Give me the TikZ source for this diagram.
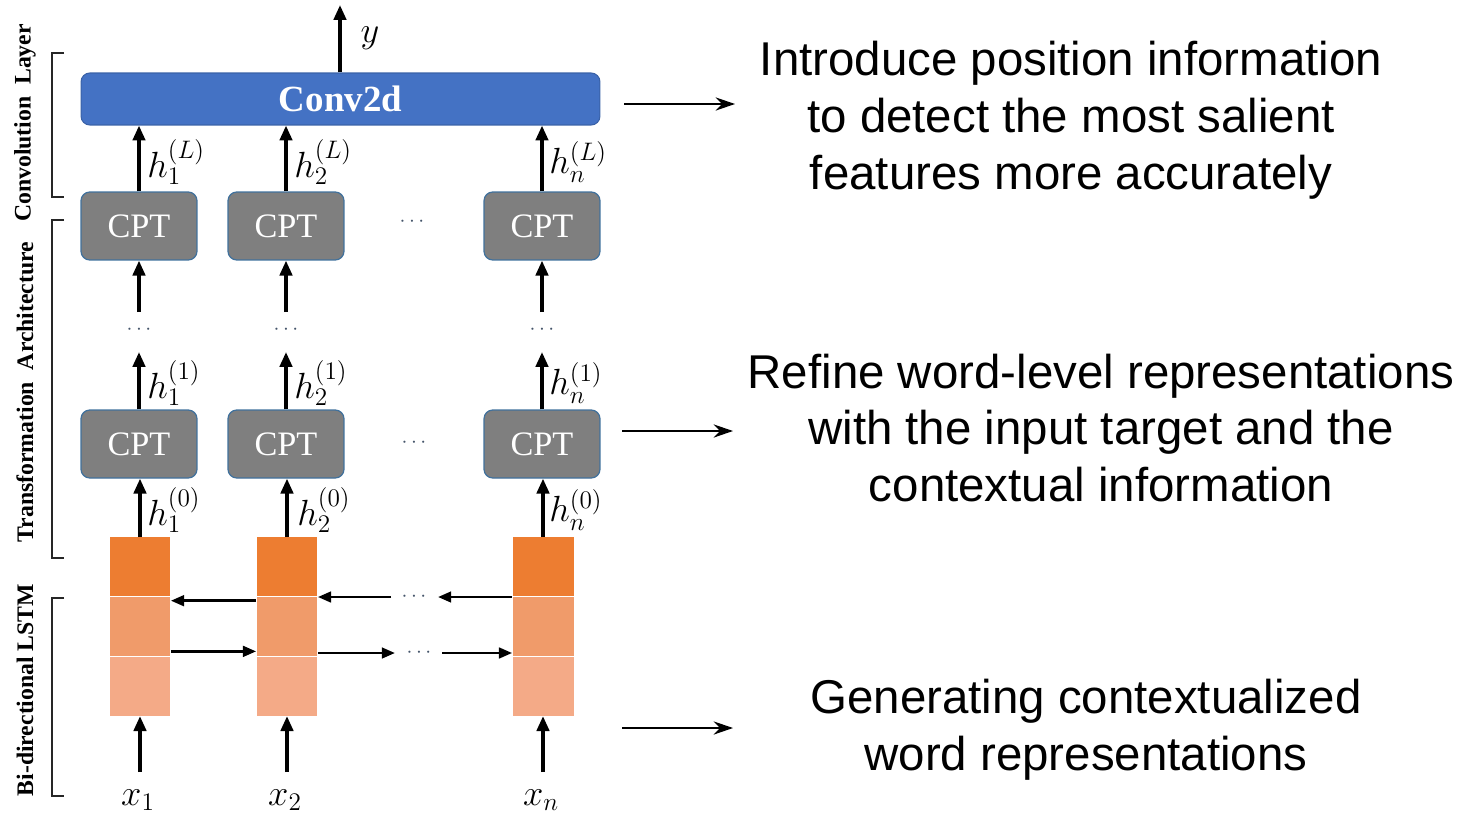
\documentclass[tikz,border=0pt]{standalone}
\usepackage{fontspec}
\setmainfont{Liberation Serif}
\newfontfamily\descfont{Liberation Sans}
\usetikzlibrary{arrows.meta,calc}

\definecolor{convblue}{HTML}{4472C4}
\definecolor{convedge}{HTML}{3A62A8}
\definecolor{cptgray}{HTML}{7F7F7F}
\definecolor{cptedge}{HTML}{41719C}
\definecolor{lstmA}{HTML}{ED7D31}
\definecolor{lstmB}{HTML}{F09B6A}
\definecolor{lstmC}{HTML}{F4AA87}
\definecolor{dotgray}{HTML}{44546A}

\begin{document}
\begin{tikzpicture}[x=0.02cm,y=-0.02cm,
  cptbox/.style={draw=cptedge, line width=0.7pt, fill=cptgray, rounded corners=5pt,
    minimum width=2.32cm, minimum height=1.36cm, inner sep=0pt, text=white,
    font=\fontsize{19.5}{19.5}\selectfont},
  convbox/.style={draw=convedge, line width=0.6pt, fill=convblue, rounded corners=5pt,
    minimum width=10.38cm, minimum height=1.04cm, inner sep=0pt, text=white,
    font=\bfseries\fontsize{21}{21}\selectfont},
  cell/.style={draw=none, inner sep=0pt, minimum width=1.22cm, minimum height=1.18cm},
  arr/.style={-{Triangle[length=8.5pt,width=7pt]}, line width=2pt},
  harr/.style={-{Triangle[length=7.5pt,width=6pt]}, line width=1.6pt},
  rarr/.style={-{Stealth[length=11pt,width=7.5pt]}, line width=1.1pt},
  bracket/.style={line width=1.2pt, draw=black!85},
  sidelab/.style={rotate=90, font=\bfseries\fontsize{13.5}{13.5}\selectfont},
  hlab/.style={anchor=west, inner sep=0pt, font=\fontsize{20}{20}\selectfont},
  xlab/.style={inner sep=0pt, font=\fontsize{20}{20}\selectfont},
  dotlab/.style={inner sep=0pt, text=dotgray, font=\fontsize{13}{13}\selectfont},
  desc/.style={align=center, inner sep=0pt, font=\descfont\fontsize{27}{32.3}\selectfont}
]
\useasboundingbox (0,0) rectangle (1474,815);

% ---------- convolution layer ----------
\node[convbox] (conv) at (340.5,99) {Conv2d};
\coordinate (yout) at (340,5);
\draw[arr] (conv.north -| yout) -- (yout);
\node[xlab] (ylab) at (370,38) {$y$};

% ---------- transformation layers ----------
\foreach \i/\x in {1/139,2/286,3/542}{
  \node[cptbox] (top\i) at (\x,226) {CPT};
  \node[cptbox] (bot\i) at (\x,444) {CPT};
  \coordinate (topin\i) at (\x,312);
  \coordinate (botout\i) at (\x,352);
  \draw[arr] (top\i.north) -- (top\i.north |- conv.south);
  \draw[arr] (topin\i) -- (top\i.south);
  \draw[arr] (bot\i.north) -- (botout\i);
  \node[dotlab] (vdots\i) at (\x,330) {$\cdots$};
}
\node[dotlab] (hdotsT) at (412,222) {$\cdots$};
\node[dotlab] (hdotsB) at (414,443) {$\cdots$};

\node[hlab] (hL1) at (147,162) {$h_1^{(L)}$};
\node[hlab] (hL2) at (294,162) {$h_2^{(L)}$};
\node[hlab] (hLn) at (549,162) {$h_n^{(L)}$};
\node[hlab] (h11) at (147,383) {$h_1^{(1)}$};
\node[hlab] (h12) at (294,383) {$h_2^{(1)}$};
\node[hlab] (h1n) at (549,383) {$h_n^{(1)}$};
\node[hlab] (h01) at (147,510) {$h_1^{(0)}$};
\node[hlab] (h02) at (297,510) {$h_2^{(0)}$};
\node[hlab] (h0n) at (549,510) {$h_n^{(0)}$};

% ---------- bi-directional LSTM ----------
\foreach \i/\x in {1/140,2/287,3/543}{
  \node[cell, fill=lstmA, anchor=north] (la\i) at (\x,537) {};
  \node[cell, fill=lstmB, anchor=north] (lb\i) at (la\i.south) {};
  \node[cell, fill=lstmC, anchor=north] (lc\i) at (lb\i.south) {};
  \coordinate (in\i) at (\x,772);
  \draw[arr] (la\i.north) -- (la\i.north |- bot\i.south);
  \draw[arr] (in\i) -- (lc\i.south);
}
\node[xlab] (x1) at (138,800) {$x_1$};
\node[xlab] (x2) at (285,800) {$x_2$};
\node[xlab] (xn) at (541,800) {$x_n$};

% backward direction
\coordinate (bk2) at (391,597);
\coordinate (bk3) at (438,597);
\draw[harr] ($(la2.south west)+(0,4)$) -- ($(la1.south east)+(0,4)$);
\draw[harr] (bk2) -- (bk2 -| la2.east);
\draw[harr] (bk3 -| la3.west) -- (bk3);
\node[dotlab] (bkdots) at (414,597) {$\cdots$};

% forward direction
\coordinate (fw2) at (395,653);
\coordinate (fw3) at (442,653);
\draw[harr] ($(lb1.south east)+(0,-5)$) -- ($(lb2.south west)+(0,-5)$);
\draw[harr] (fw2 -| lb2.east) -- (fw2);
\draw[harr] (fw3) -- (fw3 -| lb3.west);
\node[dotlab] (fwdots) at (419,653) {$\cdots$};

% ---------- side brackets and labels ----------
\draw[bracket] (64,53) -- (52,53) -- (52,197) -- (64,197);
\draw[bracket] (64,220) -- (52,220) -- (52,558) -- (64,558);
\draw[bracket] (64,598) -- (52,598) -- (52,796) -- (64,796);
\node[sidelab] (sconv) at (25,123) {Convolution\ \ Layer};
\node[sidelab] (strans) at (25,392) {Transformation\ \ Architecture};
\node[sidelab] (slstm) at (25,690) {Bi-directional LSTM};

% ---------- descriptions ----------
\node[desc] (d1) at (1071,120) {Introduce position information\\to detect the most salient\\features more accurately};
\node[desc] (d2) at (1101,428) {Refine word-level representations\\with the input target and the\\contextual information};
\node[desc] (d3) at (1086,730) {Generating contextualized\\word representations};

\coordinate (r1s) at (624,104);
\coordinate (r1e) at (735,104);
\coordinate (r2s) at (622,431);
\coordinate (r2e) at (733,431);
\coordinate (r3s) at (622,728);
\coordinate (r3e) at (733,728);
\draw[rarr] (r1s) -- (r1e);
\draw[rarr] (r2s) -- (r2e);
\draw[rarr] (r3s) -- (r3e);
\end{tikzpicture}
\end{document}
